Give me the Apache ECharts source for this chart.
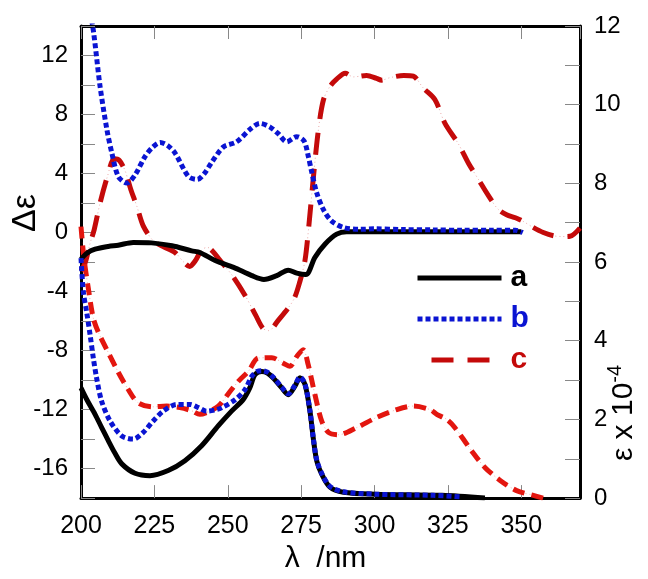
<!DOCTYPE html>
<html>
<head>
<meta charset="utf-8">
<script src="https://cdn.jsdelivr.net/npm/echarts@6/dist/echarts.min.js"></script>
<style>
html,body{margin:0;padding:0;background:#fff;}
#chart{width:648px;height:579px;}
</style>
</head>
<body>
<div id="chart"></div>
<script>
// ---- data (λ / nm, value) ----
const xTicks = [200, 225, 250, 275, 300, 325, 350];
const legendNames = ['a', 'b', 'c'];

// CD spectra, Δε (left axis)
const cdA = [[200,-1.8],[202,-1.4],[204.8,-1.13],[209.3,-0.94],[212.7,-0.86],[217.8,-0.67],[224,-0.7],[231,-0.9],[237.7,-1.24],[240.5,-1.35],[245.7,-1.9],[252,-2.36],[258.2,-2.92],[262.3,-3.18],[266.7,-2.92],[270.6,-2.55],[273.5,-2.75],[276.6,-2.85],[279.7,-1.68],[283.1,-0.79],[287.1,-0.11],[290.5,0.05],[300,0.05],[320,0.05],[340,0.05],[350,0.05]];
const cdB = [[202.6,15.5],[204.2,13.7],[206.5,9.9],[208.8,7.0],[210.5,5.4],[212.7,3.8],[215.6,3.35],[218.4,3.9],[221.8,5.15],[224.5,5.8],[227,6.1],[229.5,5.9],[232,5.4],[236.6,3.8],[239.6,3.6],[242,4.0],[244.5,4.75],[248.5,5.8],[253,6.15],[257.6,7.0],[261,7.4],[264.4,7.15],[267.2,6.7],[270.1,6.15],[273.5,6.5],[276,6.2],[277.4,5.2],[278.6,4.1],[280.3,2.7],[282.6,1.55],[285.4,0.78],[289.4,0.34],[295,0.22],[300,0.25],[310,0.2],[320,0.18],[330,0.15],[340,0.15],[348,0.15],[350.5,0.0]];
const cdC = [[200,-2.6],[201.5,-2.0],[203,-0.8],[204.5,0.2],[206.5,2.0],[209,3.8],[211.3,5.0],[213,4.9],[215,4.2],[217,2.9],[219,1.8],[221.2,0.45],[224.6,-0.55],[228,-0.95],[232,-1.35],[235,-2.0],[237,-2.3],[239,-1.9],[241,-1.2],[243,-1.0],[245,-1.3],[247,-1.8],[251.5,-2.9],[256,-4.3],[259.5,-5.6],[262,-6.5],[264,-6.65],[267,-6.0],[272.3,-4.6],[274.6,-3.3],[276.3,-1.9],[277.5,0.2],[279.2,3.8],[280.9,7.0],[282.6,9.0],[284.8,9.9],[287.1,10.4],[290,10.8],[292.8,10.55],[297.3,10.65],[300.7,10.45],[302.4,10.33],[305.3,10.5],[310,10.65],[313.2,10.6],[316.6,9.8],[320.6,9.0],[324,7.4],[328.6,6.0],[332,4.7],[335.4,3.6],[338.8,2.5],[342,1.6],[345,1.2],[348,1.0],[350.7,0.75],[354,0.35],[357.5,0.0],[361,-0.22],[364,-0.27],[366.6,-0.25],[370,0.3]];

// absorption spectra, ε x 10^-4 (right axis)
const absA = [[200,2.8],[202,2.5],[204.8,2.13],[207,1.8],[209.3,1.46],[211.5,1.15],[213.9,0.87],[218.4,0.63],[223.5,0.57],[229.7,0.7],[235.4,0.95],[241.1,1.33],[246.8,1.84],[251.3,2.21],[255.3,2.51],[257.5,2.8],[259.3,3.14],[261.6,3.22],[263.5,3.18],[265.5,3.05],[268.4,2.8],[270.6,2.63],[272.9,2.85],[274.6,3.06],[276.3,2.89],[278,2.21],[279.1,1.54],[280.3,0.95],[282,0.61],[284.8,0.28],[289.4,0.15],[300,0.1],[323,0.07],[337.6,0.0]];
const absB = [[200,6.1],[200.8,5.24],[201.9,4.74],[203.1,4.15],[204.2,3.56],[205.3,3.06],[207,2.47],[209.9,1.96],[213.9,1.58],[217.8,1.5],[221.2,1.67],[224.6,1.96],[228,2.21],[232.6,2.38],[237.1,2.38],[240,2.3],[242.8,2.21],[246.2,2.25],[248,2.3],[252.5,2.5],[255.9,2.76],[258.2,3.1],[260,3.22],[261.6,3.24],[263.5,3.2],[265.5,3.07],[268.4,2.82],[270.6,2.65],[272.9,2.87],[274.6,3.08],[276.3,2.9],[278,2.22],[279.1,1.55],[280.3,0.97],[282,0.63],[284.8,0.3],[289.4,0.16],[300,0.1],[320,0.07],[330,0.03]];
const absC = [[200,6.9],[201,6.1],[202.5,5.33],[204.2,4.57],[206,4.2],[209.3,3.7],[212.7,3.2],[216.1,2.76],[219.5,2.42],[224.6,2.32],[229.2,2.34],[233.7,2.3],[237.7,2.22],[240.5,2.13],[243.5,2.2],[246.8,2.34],[251.3,2.76],[254,3.0],[257,3.22],[260.4,3.56],[265,3.57],[268.9,3.43],[271.2,3.35],[273.5,3.6],[275.7,3.77],[277.4,3.39],[279.7,2.63],[282,1.96],[284.3,1.67],[287.7,1.61],[293.9,1.79],[300.7,2.05],[307.6,2.25],[313.2,2.34],[318.9,2.25],[321.2,2.13],[324.6,2.0],[327.4,1.79],[333.1,1.2],[337.6,0.78],[342.8,0.45],[348.4,0.19],[354.1,0.07],[357.5,0.0]];

const FONT = "'Liberation Sans', Arial, Helvetica, sans-serif";
const BLACK = '#000000', BLUE = '#0a14d2', RED = '#c40a0a', RED2 = '#e3160f';

const chart = echarts.init(document.getElementById('chart'), null, {renderer: 'canvas'});

function line(name, data, yIdx, color, width, type, z, opacity) {
  return {
    name: name, type: 'line', data: data, xAxisIndex: 0, yAxisIndex: yIdx,
    showSymbol: false, symbol: 'none', smooth: 0.3,
    lineStyle: {color: color, width: width, type: type, cap: 'butt', join: 'round', opacity: opacity == null ? 1 : opacity},
    itemStyle: {color: color}, z: z || 2, silent: true
  };
}

const option = {
  animation: false,
  backgroundColor: '#ffffff',
  grid: {left: 81, right: 68, top: 26, bottom: 78, containLabel: false},
  xAxis: [{
    type: 'value', position: 'bottom', min: 200, max: 370, interval: 25,
    name: 'λ  /nm', nameLocation: 'middle', nameGap: 40,
    nameTextStyle: {fontSize: 30, fontFamily: FONT, color: '#000', padding: [0, 10, 0, 0]},
    axisLine: {show: true, onZero: false, lineStyle: {color: '#000', width: 3}},
    axisTick: {show: true, inside: true, length: 13, lineStyle: {color: '#888', width: 1}},
    axisLabel: {show: true, fontSize: 25, fontFamily: FONT, color: '#000', margin: 16, showMaxLabel: false,
      formatter: v => xTicks.indexOf(v) >= 0 ? String(v) : ''},
    splitLine: {show: false}
  }, {
    type: 'value', position: 'top', min: 200, max: 370, interval: 25,
    axisLine: {show: true, onZero: false, lineStyle: {color: '#000', width: 3}},
    axisTick: {show: true, inside: true, length: 13, lineStyle: {color: '#888', width: 1}},
    axisLabel: {show: false}, splitLine: {show: false}
  }],
  yAxis: [{
    type: 'value', position: 'left', min: -18, max: 14, interval: 2,
    axisLine: {show: true, onZero: false, lineStyle: {color: '#000', width: 3}},
    axisTick: {show: true, inside: true, length: 14, lineStyle: {color: '#888', width: 1}},
    axisLabel: {fontSize: 24, fontFamily: FONT, color: '#000', margin: 13, padding: [0, 0, 6, 0],
      formatter: v => (v % 4 === 0 && v < 14) ? String(v) : ''},
    splitLine: {show: false}
  }, {
    type: 'value', position: 'right', min: 0, max: 12, interval: 1,
    axisLine: {show: true, onZero: false, lineStyle: {color: '#000', width: 3}},
    axisTick: {show: true, inside: true, length: 15, lineStyle: {color: '#888', width: 1}},
    axisLabel: {fontSize: 24, fontFamily: FONT, color: '#000', margin: 14, padding: [0, 0, 6, 0],
      formatter: v => (v % 2 === 0) ? String(v) : ''},
    splitLine: {show: false}
  }],
  legend: {
    orient: 'vertical', left: 410, top: 258, itemWidth: 84, itemHeight: 14, itemGap: 11,
    selectedMode: false,
    itemStyle: {opacity: 0, borderWidth: 0},
    lineStyle: {width: 5},
    textStyle: {fontSize: 30, fontWeight: 'bold', fontFamily: FONT, padding: [0, 0, 0, 4]},
    data: [
      {name: 'a', textStyle: {color: BLACK}},
      {name: 'b', textStyle: {color: BLUE}},
      {name: 'c', textStyle: {color: RED}, lineStyle: {width: 5, dashOffset: 22}}
    ]
  },
  graphic: [
    {type: 'text', x: 26, y: 213, rotation: Math.PI / 2,
      style: {text: 'Δε', fontSize: 34, fontFamily: FONT, fill: '#000', textAlign: 'center', textVerticalAlign: 'middle'}},
    {type: 'text', x: 622, y: 413, rotation: Math.PI / 2,
      style: {text: '{m|ε x 10}{s|-4}', textAlign: 'center', textVerticalAlign: 'middle', fill: '#000',
        rich: {m: {fontSize: 30, fontFamily: FONT, lineHeight: 34, verticalAlign: 'bottom'},
               s: {fontSize: 20, fontFamily: FONT, lineHeight: 20, verticalAlign: 'top'}}}}
  ],
  series: [
    line('a', cdA, 0, BLACK, 5, 'solid', 5),
    line('b', cdB, 0, BLUE, 5, [5, 3], 6),
    line('c', cdC, 0, RED, 5, [22, 14], 4),
    line('c-thin', cdC, 0, RED, 0.7, [1, 3], 1, 0.5),
    line('a-abs', absA, 1, BLACK, 5, 'solid', 5),
    line('b-abs', absB, 1, BLUE, 5, [5, 3], 6),
    line('c-abs', absC, 1, RED2, 5, [12, 7], 4),
    line('c-abs-thin', absC, 1, RED2, 0.7, [1, 3], 1, 0.5)
  ]
};
chart.setOption(option);
</script>
</body>
</html>
